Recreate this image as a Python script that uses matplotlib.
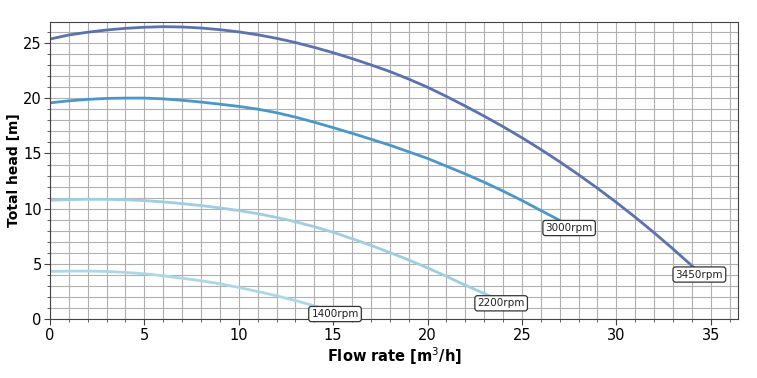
import numpy as np
import matplotlib.pyplot as plt

# pump curves (flow rate m3/h, total head m)
q_3450 = [0, 1, 2, 3, 4, 5, 6, 7, 8, 9, 10, 11, 12, 13, 14, 15, 16, 17, 18, 19, 20,
          21, 22, 23, 24, 25, 26, 27, 28, 29, 30, 31, 32, 33, 34, 34.4]
h_3450 = [25.33, 25.7, 25.95, 26.15, 26.3, 26.4, 26.45, 26.42, 26.33, 26.18, 25.98,
          25.72, 25.4, 25.02, 24.58, 24.1, 23.57, 23.0, 22.4, 21.72, 20.98, 20.15,
          19.28, 18.37, 17.42, 16.42, 15.36, 14.25, 13.08, 11.86, 10.58, 9.24, 7.84,
          6.38, 4.86, 4.25]

q_3000 = [0, 1, 2, 3, 4, 5, 6, 7, 8, 9, 10, 11, 12, 13, 14, 15, 16, 17, 18, 19, 20,
          21, 22, 23, 24, 25, 26, 27, 27.5]
h_3000 = [19.57, 19.75, 19.88, 19.97, 20.0, 20.0, 19.93, 19.8, 19.64, 19.45, 19.25,
          19.0, 18.68, 18.28, 17.82, 17.33, 16.82, 16.29, 15.75, 15.15, 14.55, 13.85,
          13.15, 12.4, 11.6, 10.75, 9.85, 8.95, 8.45]

q_2200 = [0, 1, 2, 3, 4, 5, 6, 7, 8, 9, 10, 11, 12, 13, 14, 15, 16, 17, 18, 19, 20,
          21, 22, 23, 23.9]
h_2200 = [10.77, 10.83, 10.86, 10.85, 10.82, 10.74, 10.62, 10.47, 10.29, 10.08, 9.84,
          9.56, 9.22, 8.83, 8.38, 7.88, 7.3, 6.7, 6.05, 5.38, 4.66, 3.9, 3.1, 2.35,
          1.65]

q_1400 = [0, 1, 2, 3, 4, 5, 6, 7, 8, 9, 10, 11, 12, 13, 14, 15.1]
h_1400 = [4.34, 4.37, 4.37, 4.34, 4.25, 4.13, 3.95, 3.73, 3.5, 3.23, 2.89, 2.53, 2.14,
          1.71, 1.23, 0.68]

labels = ['3450rpm', '3000rpm', '2200rpm', '1400rpm']
colors = ['#5a72b0', '#4a97c9', '#9fcde1', '#acd7e7']

fig, ax = plt.subplots(figsize=(7.57, 3.78), dpi=100)

for q, h, lab, c in zip([q_3450, q_3000, q_2200, q_1400],
                        [h_3450, h_3000, h_2200, h_1400], labels, colors):
    ax.plot(q, h, color=c, lw=2)
    ax.annotate(lab, (q[-1], h[-1]), xytext=(0, -1.5), textcoords='offset points',
                ha='center', va='center', fontsize=7.5, color='#222222',
                bbox=dict(boxstyle='round,pad=0.25', fc='white', ec='#333333', lw=0.9))

ax.set_xlim(0, 36.45)
ax.set_ylim(0, 26.9)
ax.set_xticks(np.arange(0, 36, 5))
ax.set_yticks(np.arange(0, 26, 5))
ax.set_xticks(np.arange(0, 37, 1), minor=True)
ax.set_yticks(np.arange(0, 27, 1), minor=True)
ax.grid(which='both', color='#b0b0b0', lw=0.8)
ax.set_axisbelow(True)
for s in ax.spines.values():
    s.set_color('#444444')
ax.tick_params(which='major', labelsize=10.5, length=4, pad=2, color='#444444')
ax.tick_params(which='minor', length=2.5, color='#444444')
ax.set_xlabel('Flow rate [m$^3$/h]', fontsize=10.5, fontweight='bold', labelpad=2)
ax.set_ylabel('Total head [m]', fontsize=10, fontweight='bold', labelpad=1)

plt.subplots_adjust(left=0.066, right=0.975, top=0.9426, bottom=0.1548)
plt.savefig('out.png')
